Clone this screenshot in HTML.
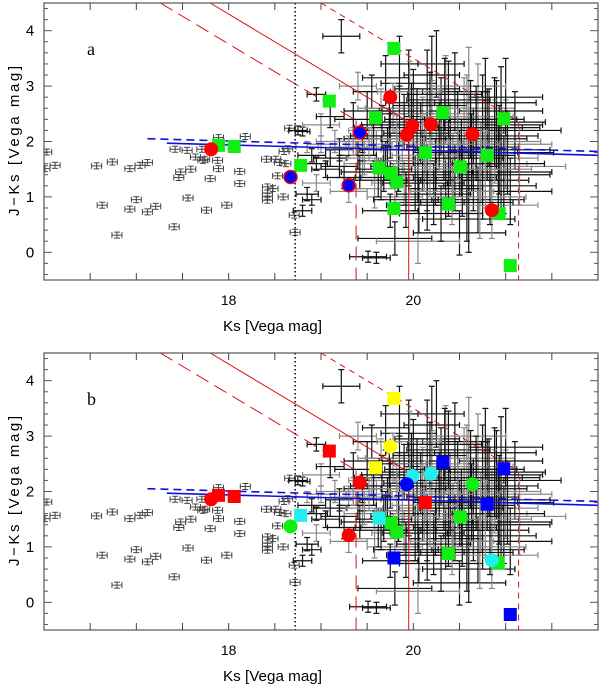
<!DOCTYPE html>
<html><head><meta charset="utf-8"><style>
body{margin:0;background:#fff}
svg{display:block;font-family:"Liberation Sans",sans-serif}
</style></head><body>
<svg id="chart" width="600" height="685" viewBox="0 0 600 685">
<defs>
<clipPath id="clipA"><rect x="44" y="3" width="554" height="277"/></clipPath>
<clipPath id="clipB"><rect x="44" y="353" width="554" height="277"/></clipPath>
</defs>
</svg>
<script>
// ---- data ----
const xTicksLabeled = [18, 20];
const yTickLabels = [0, 1, 2, 3, 4];
// bright sources: Ks, J-Ks
const brightKs = [16.03,16.01,16.12,16.57,16.63,16.74,16.79,16.93,16.93,17.0,17.04,17.12,17.12,17.21,17.41,17.42,17.46,17.48,17.55,17.56,17.59,17.64,17.71,17.72,17.74,17.76,17.8,17.89,17.89,17.88,17.98,18.12,18.12,18.18,18.41,18.42,18.42,18.42,18.42,18.51,18.53,18.59,18.62,18.64,18.66,18.71,18.72,18.55,18.6,18.48];
const brightJK = [1.81,1.51,1.57,1.56,0.85,1.63,0.31,1.51,0.78,0.95,1.57,1.62,0.73,0.83,0.46,1.86,1.35,1.45,1.84,0.98,1.5,1.72,1.86,1.66,1.68,0.76,1.33,2.07,1.51,1.66,0.85,1.46,1.24,2.09,1.68,1.18,1.07,0.94,1.01,1.68,1.38,1.0,1.6,1.87,2.24,0.67,0.36,1.62,1.82,1.15];
// faint sources with errors: Ks, J-Ks, Ks err, J-Ks err
const cloudKs = [18.75,18.8,18.85,18.9,18.95,19.0,19.05,19.1,19.15,19.2,19.25,18.95,18.85,18.9,19.0,19.1,18.8,19.4,19.22,18.95,19.3,19.51,19.6,19.45,19.35,19.55,19.65,19.7,19.85,19.6,19.7,19.75,19.8,19.8,19.85,19.95,20.0,20.05,20.1,20.15,20.2,20.25,20.3,20.35,20.4,20.45,20.5,20.55,20.6,20.65,20.7,20.75,20.8,20.85,20.9,20.95,21.0,21.05,20.5,20.35,20.15,19.95,20.05,20.7,20.95,20.25,20.45,20.6,19.9,20.0,20.1,20.2,20.3,20.4,20.55,20.65,20.75,20.85,19.65,19.75,19.55,19.45,19.2,19.3,19.4,21.1,21.15,21.0,20.25,20.6,19.95,20.15,
 19.35,19.42,19.5,19.58,19.66,19.72,19.78,19.84,19.9,19.96,20.02,20.08,20.12,20.18,20.22,20.28,20.33,20.38,20.43,20.48,20.53,20.58,20.63,20.68,20.73,20.78,20.83,20.88,20.93,20.98,19.52,19.62,19.74,19.88,19.98,20.06,20.14,20.24,20.34,20.42,20.52,20.62,20.72,20.82,20.92,19.47,19.57,19.68,19.82,19.92,20.04,20.18,20.28,20.38,20.48,20.58,20.68,20.78,20.88,21.02];
const cloudJK = [2.2,2.18,1.9,1.75,1.6,1.95,1.5,1.7,2.0,1.85,1.35,1.25,1.05,0.95,2.3,2.45,0.75,3.0,3.9,2.85,1.1,-0.08,-0.1,1.6,2.4,2.9,2.6,3.15,3.4,1.9,1.65,2.1,1.0,0.25,2.5,1.85,2.7,1.4,2.2,0.9,3.2,1.7,2.45,1.15,2.0,2.9,1.6,2.35,0.6,1.9,2.6,1.3,2.1,1.7,2.3,1.45,1.95,1.1,0.35,2.75,2.95,3.05,0.2,0.95,2.55,1.95,1.35,1.75,1.25,2.05,1.6,2.5,0.7,1.8,2.15,1.45,2.4,0.85,1.3,0.75,2.2,2.05,1.55,1.9,1.75,2.2,1.55,2.8,3.4,3.0,1.65,1.25,
 2.0,1.45,2.55,1.15,2.25,1.85,2.6,1.55,2.35,2.9,1.25,2.15,1.75,2.65,1.05,2.3,1.9,2.75,1.5,2.2,1.3,2.45,1.8,2.05,1.6,2.7,1.2,2.0,1.85,1.4,1.95,1.35,2.3,1.65,2.55,0.85,2.0,1.45,2.85,1.1,1.7,2.4,1.0,2.25,1.6,1.7,2.1,1.5,2.05,0.95,2.4,1.55,2.1,1.3,1.95,0.9,2.25,1.5,2.35,1.8];
const cloudKsErr = [0.1,0.08,0.12,0.15,0.12,0.15,0.15,0.18,0.2,0.15,0.18,0.15,0.12,0.1,0.2,0.15,0.1,0.2,0.2,0.1,0.2,0.2,0.15,0.2,0.2,0.2,0.25,0.25,0.2,0.25,0.3,0.25,0.3,0.4,0.3,0.3,0.3,0.35,0.35,0.4,0.3,0.4,0.4,0.4,0.45,0.35,0.45,0.45,0.5,0.5,0.4,0.5,0.55,0.5,0.5,0.55,0.5,0.45,0.5,0.4,0.35,0.3,0.45,0.5,0.45,0.4,0.45,0.5,0.35,0.35,0.35,0.4,0.45,0.4,0.45,0.5,0.45,0.5,0.3,0.3,0.25,0.2,0.2,0.2,0.2,0.5,0.5,0.4,0.3,0.4,0.3,0.4,
 0.2,0.2,0.25,0.25,0.3,0.3,0.3,0.3,0.35,0.35,0.35,0.4,0.35,0.4,0.4,0.45,0.4,0.45,0.45,0.5,0.45,0.5,0.5,0.55,0.5,0.55,0.5,0.5,0.55,0.5,0.25,0.25,0.3,0.3,0.35,0.35,0.4,0.4,0.4,0.45,0.45,0.5,0.5,0.55,0.5,0.2,0.25,0.3,0.3,0.35,0.35,0.4,0.4,0.45,0.45,0.5,0.5,0.5,0.55,0.5];
const cloudJKErr = [0.08,0.08,0.1,0.12,0.12,0.15,0.15,0.15,0.2,0.2,0.2,0.15,0.12,0.1,0.2,0.2,0.1,0.25,0.3,0.12,0.2,0.1,0.1,0.25,0.3,0.3,0.35,0.4,0.5,0.3,0.35,0.4,0.3,0.3,0.5,0.5,0.6,0.5,0.6,0.5,0.7,0.6,0.7,0.55,0.7,0.7,0.6,0.8,0.6,0.7,0.8,0.7,0.8,0.7,0.8,0.7,0.8,0.6,0.4,0.8,0.7,0.6,0.4,0.6,0.8,0.6,0.6,0.7,0.4,0.5,0.5,0.6,0.5,0.6,0.7,0.7,0.8,0.6,0.35,0.3,0.3,0.25,0.2,0.2,0.25,0.7,0.7,0.7,0.6,0.7,0.45,0.5,
 0.25,0.3,0.35,0.35,0.4,0.4,0.45,0.45,0.5,0.55,0.5,0.55,0.6,0.6,0.55,0.65,0.6,0.7,0.65,0.7,0.65,0.75,0.7,0.75,0.7,0.8,0.7,0.75,0.8,0.7,0.3,0.35,0.4,0.45,0.5,0.5,0.55,0.6,0.65,0.6,0.7,0.7,0.75,0.7,0.8,0.3,0.35,0.4,0.45,0.5,0.55,0.55,0.6,0.65,0.65,0.7,0.75,0.7,0.8,0.75];
// panel a highlighted sources
const aGreenKs = [17.89,18.06,19.79,19.09,19.59,20.32,20.98,20.13,20.8,18.78,20.51,19.63,19.76,19.82,19.79,20.38,20.93,21.05];
const aGreenJK = [1.93,1.91,3.68,2.73,2.43,2.52,2.41,1.8,1.75,1.57,1.54,1.52,1.43,1.27,0.79,0.87,0.7,-0.24];
const aRedKs = [17.81,19.75,19.99,19.93,20.19,20.64,20.85];
const aRedJK = [1.86,2.8,2.28,2.12,2.31,2.13,0.76];
const aBlueKs = [18.67,19.42,19.3];
const aBlueJK = [1.36,2.16,1.21];
// panel b highlighted sources
const bYellowSqKs = [19.79,19.59]; const bYellowSqJK = [3.68,2.43];
const bYellowCiKs = [19.75]; const bYellowCiJK = [2.81];
const bRedSqKs = [17.89,18.06,19.09,20.13]; const bRedSqJK = [1.93,1.91,2.73,1.8];
const bRedCiKs = [17.81,19.42,19.3]; const bRedCiJK = [1.86,2.16,1.21];
const bGreenSqKs = [20.51,19.76,19.82,20.38,20.92]; const bGreenSqJK = [1.54,1.43,1.27,0.88,0.71];
const bGreenCiKs = [18.67,20.64]; const bGreenCiJK = [1.37,2.13];
const bCyanSqKs = [18.78,19.63]; const bCyanSqJK = [1.57,1.52];
const bCyanCiKs = [19.99,20.19,20.85]; const bCyanCiJK = [2.28,2.32,0.76];
const bBlueSqKs = [20.32,20.98,20.8,19.79,21.05]; const bBlueSqJK = [2.53,2.41,1.77,0.8,-0.22];
const bBlueCiKs = [19.93]; const bBlueCiJK = [2.13];
// model lines
const jLimLong = 21.76, jLimSolid = 22.3, jLimShort = 23.5;
const ksLimLong = 19.38, ksLimSolid = 19.95, ksLimShort = 21.14;
const ksDotted = 18.72;
const blueSolid = [[17.33,1.97],[22,1.75]];
const blueDashed = [[17.12,2.05],[22,1.82]];

// ---- drawing ----
const NS = 'http://www.w3.org/2000/svg';
const svg = document.getElementById('chart');
const X0 = 44, W = 554, H = 277;
function X(k){ return X0 + (k - 16) / 6 * W; }
function mkY(top){ return v => top + (4.5 - v) / 5 * H; }
function el(tag, attrs, parent){
  const e = document.createElementNS(NS, tag);
  for (const k in attrs) e.setAttribute(k, attrs[k]);
  (parent || svg).appendChild(e); return e;
}
function line(g, x1, y1, x2, y2, stroke, w, dash){
  const a = {x1, y1, x2, y2, stroke, 'stroke-width': w};
  if (dash) a['stroke-dasharray'] = dash;
  return el('line', a, g);
}
function errbar(g, x, y, dx, dy, col, w){
  line(g, x - dx, y, x + dx, y, col, w);
  line(g, x, y - dy, x, y + dy, col, w);
  const c = 3;
  line(g, x - dx, y - c, x - dx, y + c, col, w);
  line(g, x + dx, y - c, x + dx, y + c, col, w);
  line(g, x - c, y - dy, x + c, y - dy, col, w);
  line(g, x - c, y + dy, x + c, y + dy, col, w);
}

function panel(top, label, key){
  const Y = mkY(top);
  const g = el('g', {});
  
  
  const pg = el('g', {'clip-path': 'url(#clip' + key.toUpperCase() + ')'}, g);
  
  
  const bg = el('g', {}, pg);
  
  
  for (let i = 0; i < brightKs.length; i++) {
    errbar(bg, X(brightKs[i]), Y(brightJK[i]), 5, 3, '#444', 1);
  }
  const cg = el('g', {}, pg);
  
  
  for (let i = 0; i < cloudKs.length; i++) {
    const x = X(cloudKs[i]), y = Y(cloudJK[i]);
    const dx = cloudKsErr[i] / 6 * W, dy = cloudJKErr[i] / 5 * H;
    errbar(cg, x, y, dx, dy, i % 3 === 2 ? '#888' : '#111', 1.2);
  }
  const lg = el('g', {}, pg);
  
  
  const red = '#dd1111';
  [[jLimLong, ksLimLong, '14,7'], [jLimSolid, ksLimSolid, null], [jLimShort, ksLimShort, '6,5']].forEach(([J, ksL, dash]) => {
    const ksTop = J - 4.5;
    const yJoin = J - ksL;
    line(lg, X(ksTop), Y(4.5), X(ksL), Y(yJoin), red, 1, dash);
    line(lg, X(ksL), Y(yJoin), X(ksL), Y(-0.5), red, 1, dash);
  });
  line(lg, X(ksDotted), Y(4.5), X(ksDotted), Y(-0.5), '#000', 1.5, '1.5,2.5');
  line(lg, X(blueSolid[0][0]), Y(blueSolid[0][1]), X(blueSolid[1][0]), Y(blueSolid[1][1]), '#1010dd', 1.6);
  line(lg, X(blueDashed[0][0]), Y(blueDashed[0][1]), X(blueDashed[1][0]), Y(blueDashed[1][1]), '#1010dd', 1.6, '8,5');
  const mg = el('g', {}, pg);
  
  
  function sq(ks, jk, col){
    for (let i = 0; i < ks.length; i++) {
      const r = el('rect', {x: X(ks[i]) - 6.5, y: Y(jk[i]) - 6.5, width: 13, height: 13, fill: col}, mg);
      
      
    }
  }
  function ci(ks, jk, col, stroke){
    for (let i = 0; i < ks.length; i++) {
      const a = {cx: X(ks[i]), cy: Y(jk[i]), r: 7, fill: col};
      if (stroke) { a.stroke = stroke; a['stroke-width'] = 1.5; a.r = 6.5; }
      const c = el('circle', a, mg);
      
      
    }
  }
  if (key === 'a') {
    sq(aGreenKs, aGreenJK, '#11ee11');
    ci(aRedKs, aRedJK, '#ff0000');
    ci(aBlueKs, aBlueJK, '#0000ff', '#ff0000');
  } else {
    sq(bGreenSqKs, bGreenSqJK, '#11ee11');
    sq(bCyanSqKs, bCyanSqJK, '#22eeee');
    sq(bBlueSqKs, bBlueSqJK, '#0000ff');
    sq(bRedSqKs, bRedSqJK, '#ff0000');
    sq(bYellowSqKs, bYellowSqJK, '#ffff00');
    ci(bGreenCiKs, bGreenCiJK, '#11ee11');
    ci(bCyanCiKs, bCyanCiJK, '#22eeee');
    ci(bBlueCiKs, bBlueCiJK, '#0000ff');
    ci(bRedCiKs, bRedCiJK, '#ff0000');
    ci(bYellowCiKs, bYellowCiJK, '#ffff00');
  }
  const fg = el('g', {}, g);
  
  
  el('rect', {x: X0, y: top, width: W, height: H, fill: 'none', stroke: '#555', 'stroke-width': 1.2}, fg);
  for (let k = 16.5; k < 22; k += 0.5) {
    line(fg, X(k), top + H, X(k), top + H - 7, '#444', 1);
    line(fg, X(k), top, X(k), top + 7, '#444', 1);
  }
  for (let v = -0.4; v < 4.5; v += 0.2) {
    const major = Math.abs(v - Math.round(v)) < 0.01;
    const len = major ? 8 : 4;
    line(fg, X0, Y(v), X0 + len, Y(v), '#555', 1);
    line(fg, X0 + W, Y(v), X0 + W - len, Y(v), '#555', 1);
  }
  xTicksLabeled.forEach(k => {
    const t = el('text', {x: X(k), y: top + H + 25, 'font-size': 14, 'text-anchor': 'middle'}, g);
    t.textContent = k;
    
    
  });
  yTickLabels.forEach(v => {
    const t = el('text', {x: 30, y: Y(v) + 5, 'font-size': 15, 'text-anchor': 'middle'}, g);
    t.textContent = v;
    
    
  });
  const xt = el('text', {x: 223, y: top + H + 51, 'font-size': 15, textLength: 99, lengthAdjust: 'spacingAndGlyphs'}, g);
  xt.textContent = 'Ks  [Vega mag]';
  
  
  const yt = el('text', {x: 0, y: 0, 'font-size': 15, textLength: 150, lengthAdjust: 'spacing', transform: 'translate(19,' + (top + 213) + ') rotate(-90)'}, g);
  yt.textContent = 'J\u2212Ks  [Vega  mag]';
  
  
  const pl = el('text', {x: 87, y: top + 52, 'font-size': 18, 'font-family': '"Liberation Serif",serif'}, g);
  pl.textContent = label;
  
  
}
panel(3, 'a', 'a');
panel(353, 'b', 'b');
</script>
</body></html>
